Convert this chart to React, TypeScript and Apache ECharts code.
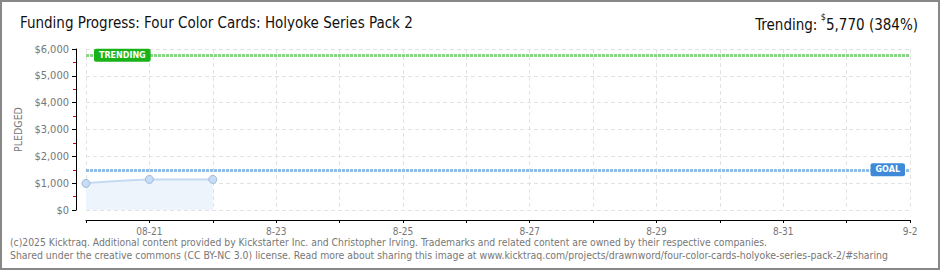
import React, { useEffect, useRef } from 'react';
import * as echarts from 'echarts';

const titleText = 'Funding Progress: Four Color Cards: Holyoke Series Pack 2';
const trendingValue = 5770;
const trendingPct = 384;
const goalValue = 1500;
const startDate = '2025-08-20T00:00:00Z';
const endDate = '2025-09-02T00:00:00Z';
const pledgeTimes = [
  '2025-08-20T00:00:00Z',
  '2025-08-20T03:00:00Z',
  '2025-08-20T09:00:00Z',
  '2025-08-20T15:00:00Z',
  '2025-08-20T21:00:00Z',
  '2025-08-21T00:00:00Z',
  '2025-08-22T00:00:00Z',
];
const pledgeValues = [990, 1025, 1065, 1100, 1125, 1140, 1140];
const dailyMarks = [true, false, false, false, false, true, true];
const xTickLabels = ['', '08-21', '', '8-23', '', '8-25', '', '8-27', '', '8-29', '', '8-31', '', '9-2'];
const yMax = 6000;
const yStep = 1000;
const footerLines = [
  '(c)2025 Kicktraq. Additional content provided by Kickstarter Inc. and Christopher Irving. Trademarks and related content are owned by their respective companies.',
  'Shared under the creative commons (CC BY-NC 3.0) license. Read more about sharing this image at www.kicktraq.com/projects/drawnword/four-color-cards-holyoke-series-pack-2/#sharing',
];

const DAY = 86400000;
const t0 = Date.parse(startDate);
const toDay = (s: string) => (Date.parse(s) - t0) / DAY;
const FONT = "'DejaVu Sans Condensed', 'DejaVu Sans', sans-serif";

const fmtMoney = (v: number) => '$' + v.toLocaleString('en-US');

export default function App() {
  const ref = useRef<HTMLDivElement>(null);
  useEffect(() => {
    document.body.style.margin = '0';
    const chart = echarts.init(ref.current!, undefined, { renderer: 'svg' });
    const xMax = toDay(endDate);
    const data = pledgeTimes.map((t, i) => ({
      value: [toDay(t), pledgeValues[i]],
      symbol: dailyMarks[i] ? 'circle' : 'none',
    }));
    chart.setOption({
      animation: false,
      grid: { left: 86, right: 30, top: 49, bottom: 60 },
      xAxis: {
        type: 'value',
        min: 0,
        max: xMax,
        interval: 1,
        offset: 10,
        axisLine: { show: true, onZero: false, lineStyle: { color: '#000', width: 1 } },
        axisTick: { show: true, length: 3, lineStyle: { color: '#000' } },
        axisLabel: {
          color: '#777',
          fontSize: 10,
          fontFamily: FONT,
          margin: 6,
          formatter: (v: number) => xTickLabels[Math.round(v)] ?? '',
        },
        splitLine: { show: true, lineStyle: { color: '#e2e2e2', type: [4, 3] } },
      },
      yAxis: {
        type: 'value',
        min: 0,
        max: yMax,
        interval: yStep,
        offset: 10,
        name: 'PLEDGED',
        nameLocation: 'middle',
        nameGap: 50,
        nameTextStyle: { color: '#777', fontSize: 10.5, fontFamily: FONT },
        axisLine: { show: true, onZero: false, lineStyle: { color: '#000', width: 1 } },
        axisTick: { show: true, length: 4, lineStyle: { color: '#000' } },
        minorTick: { show: true, splitNumber: 2, length: 3, lineStyle: { color: '#e00000' } },
        axisLabel: {
          color: '#777',
          fontSize: 11,
          fontFamily: FONT,
          margin: 7,
          formatter: (v: number) => fmtMoney(v),
        },
        splitLine: { show: true, lineStyle: { color: '#e2e2e2', type: [4, 3] } },
      },
      series: [
        {
          type: 'line',
          data,
          showAllSymbol: true,
          symbolSize: 8,
          itemStyle: { color: '#c8ddf5', borderColor: '#9bb9dd', borderWidth: 1 },
          lineStyle: { color: '#c4daf2', width: 2 },
          areaStyle: { color: '#edf4fc', opacity: 1 },
          z: 3,
          markLine: {
            silent: true,
            symbol: 'none',
            label: { show: false },
            data: [
              { yAxis: trendingValue, lineStyle: { color: '#86d686', width: 3, type: [3, 1] } },
              { yAxis: goalValue, lineStyle: { color: '#92bce8', width: 3, type: [3, 1] } },
            ],
          },
        },
      ],
    });
    const pT = chart.convertToPixel({ gridIndex: 0 }, [0, trendingValue]) as number[];
    const pG = chart.convertToPixel({ gridIndex: 0 }, [xMax, goalValue]) as number[];
    chart.setOption({
      graphic: [
        { type: 'rect', shape: { x: 1, y: 1, width: 938, height: 268 }, style: { fill: 'none', stroke: '#888', lineWidth: 2 }, silent: true },
        {
          type: 'text', left: 20, top: 15,
          style: { text: titleText, fontFamily: FONT, fontSize: 15, fill: '#111' },
        },
        {
          type: 'text', right: 22, top: 12,
          style: {
            text: '{a|Trending:} {s|$}{a|' + trendingValue.toLocaleString('en-US') + ' (' + trendingPct + '%)}',
            fontFamily: FONT,
            rich: {
              a: { fontSize: 15, fill: '#111', fontFamily: FONT, lineHeight: 20, verticalAlign: 'bottom' },
              s: { fontSize: 9, fill: '#111', fontFamily: FONT, lineHeight: 20, verticalAlign: 'top' },
            },
          },
        },
        {
          type: 'text', x: pT[0] + 8, y: pT[1], z: 10,
          style: {
            text: 'TRENDING', fill: '#fff', fontSize: 8, fontWeight: 'bold', fontFamily: "'DejaVu Sans', sans-serif",
            backgroundColor: '#19b319', padding: [3, 5, 2, 5], borderRadius: 2, verticalAlign: 'middle', align: 'left',
          },
        },
        {
          type: 'text', x: pG[0] - 5, y: pG[1], z: 10,
          style: {
            text: 'GOAL', fill: '#fff', fontSize: 8, fontWeight: 'bold', fontFamily: "'DejaVu Sans', sans-serif",
            backgroundColor: '#3f8ad8', padding: [3, 5, 2, 5], borderRadius: 2, verticalAlign: 'middle', align: 'right',
          },
        },
        {
          type: 'text', left: 10, top: 237,
          style: { text: footerLines[0], fontFamily: FONT, fontSize: 10.3, fill: '#777' },
        },
        {
          type: 'text', left: 10, top: 250,
          style: { text: footerLines[1], fontFamily: FONT, fontSize: 10.4, fill: '#777' },
        },
      ],
    });
    return () => chart.dispose();
  }, []);
  return <div ref={ref} style={{ width: 940, height: 270 }} />;
}
